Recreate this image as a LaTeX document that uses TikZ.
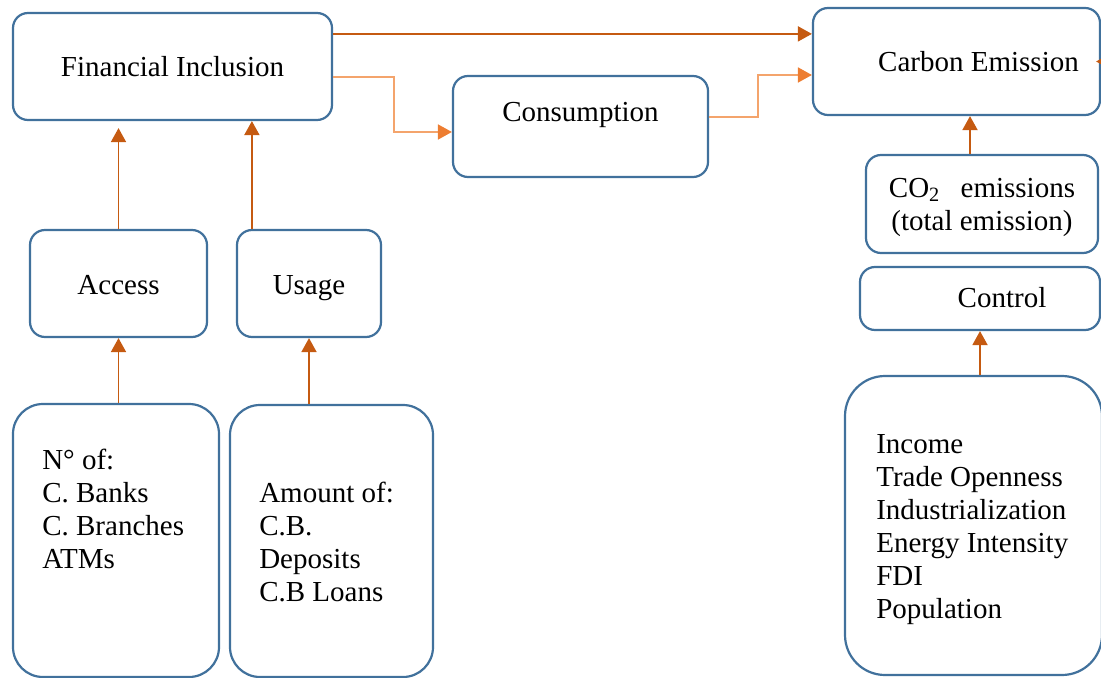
\documentclass[tikz,border=0pt]{standalone}
\usepackage{fontspec}
\setmainfont{Liberation Serif}
\usetikzlibrary{arrows.meta}
\definecolor{boxblue}{HTML}{41719C}
\definecolor{darkor}{HTML}{C55A11}
\definecolor{lightor}{HTML}{F4A46C}
\definecolor{tipor}{HTML}{ED7D31}

\begin{document}
\begin{tikzpicture}
[x=0.5pt, y=-0.5pt,
% STYLES
every node/.style={font=\fontsize{14.5}{16.5}\selectfont},
% The box style is used for the variables
box/.style={rectangle, rounded corners=7.5pt, draw=boxblue, line width=1.1pt, fill=white, inner sep=0pt, align=center},
% one line of text, same baseline in every box
word/.style={text height=13.5pt, text depth=3pt},
% tall boxes hold the lists of indicators
list/.style={box, rounded corners=15pt},
txt/.style={anchor=north west, inner sep=0pt, align=left},
link/.style={->, >={Triangle[length=7pt,width=7.5pt]}, draw=darkor, line width=0.9pt},
soft/.style={-{Triangle[length=7pt,width=7.5pt,color=tipor]}, draw=lightor, line width=0.9pt}]

\useasboundingbox (0,0) rectangle (1101,678);

% Draw variables
\node [box, word, minimum width=159.5pt, minimum height=53.5pt] (inclusion) at (172.5,66.5) {Financial Inclusion};
\node [box, minimum width=143.5pt, minimum height=53.5pt, label={[word, xshift=11pt]center:Carbon Emission}] (carbon) at (956.5,61.5) {};
\node [box, minimum width=127.5pt, minimum height=50.5pt, label={[word, yshift=7.75pt]center:Consumption}] (consumption) at (580.5,126.5) {};
\node [box, word, minimum width=88.5pt, minimum height=53.5pt] (access) at (118.5,283.5) {Access};
\node [box, word, minimum width=72pt, minimum height=53.5pt] (usage) at (309,283.5) {Usage};
\node [box, minimum width=116pt, minimum height=49pt, label={[align=center, yshift=-1.5pt]center:{CO\textsubscript{2}\hspace{0.45em} emissions\\(total emission)}}] (co2) at (982,204) {};
\node [box, minimum width=120pt, minimum height=31.5pt, label={[word, xshift=11pt, yshift=0.75pt]center:Control}] (control) at (980,298.5) {};

% Draw indicators
\node [list, minimum width=103pt, minimum height=136.5pt, label={[txt, xshift=15pt, yshift=-23pt]north west:{N° of:\\C. Banks\\C. Branches\\ATMs}}] (accessvars) at (116,540.5) {};
\node [list, minimum width=101.5pt, minimum height=136pt, label={[txt, xshift=15pt, yshift=-39pt]north west:{Amount of:\\C.B.\\Deposits\\C.B Loans}}] (usagevars) at (331.5,541) {};
\node [list, rounded corners=20pt, minimum width=128.5pt, minimum height=149.5pt, label={[txt, xshift=16pt, yshift=-29.5pt]north west:{Income\\Trade Openness\\Industrialization\\Energy Intensity\\FDI\\Population}}] (controlvars) at (973.5,525.5) {};

% Draw links
\coordinate (fitop) at ([yshift=-11pt]inclusion.north east);
\draw [link] (fitop) -- (fitop -| carbon.west);
\draw [soft] ([yshift=-5.25pt]inclusion.east) -- ++(30.5pt,0) |- ([yshift=-2.75pt]consumption.west);
\draw [soft] ([yshift=4.75pt]consumption.east) -- ++(24.5pt,0) |- ([yshift=-6.75pt]carbon.west);

\draw [link, shorten >=3.5pt] (access.north) -- (access.north |- inclusion.south);
\coordinate (usetop) at ([xshift=8pt]usage.north west);
\draw [link] (usetop) -- (usetop |- inclusion.south);
\draw [link] (access.south |- accessvars.north) -- (access.south);
\draw [link] (usage.south |- usagevars.north) -- (usage.south);
\draw [link] (control.south |- controlvars.north) -- (control.south);
\coordinate (co2top) at ([xshift=-6pt]co2.north);
\draw [link] (co2top) -- (co2top |- carbon.south);
% arrow coming in from the right, cut by the page
\coordinate (outside) at ([xshift=20pt]carbon.east);
\draw [link] (outside) -- ([xshift=-2.5pt]carbon.east);

\end{tikzpicture}
\end{document}
